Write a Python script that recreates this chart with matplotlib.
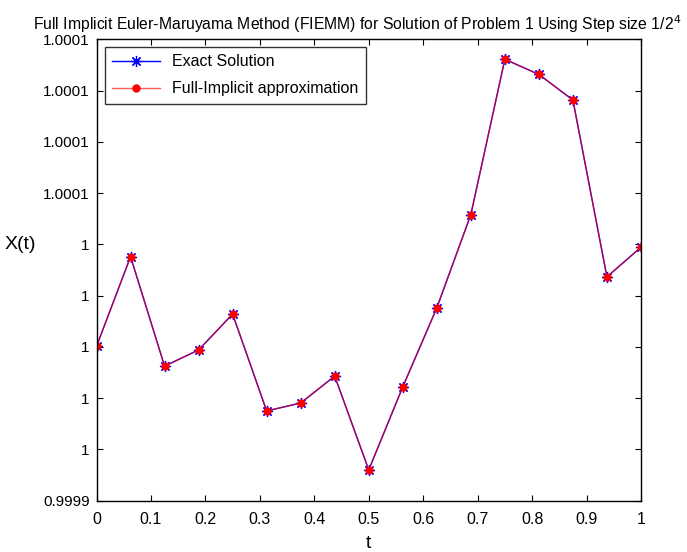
import matplotlib
matplotlib.use("Agg")
import matplotlib.pyplot as plt
import numpy as np

# step size h = 1/2^4 -> 17 points on [0, 1]
t = [k / 16 for k in range(17)]

# values, as offsets from 1 (units of 1e-5)
exact_off = [0.02, 3.52, -0.75, -0.12, 1.28, -2.50, -2.19, -1.14, -4.80,
             -1.56, 1.52, 5.16, 11.22, 10.63, 9.63, 2.73, 3.89]
approx_off = [0.02, 3.52, -0.75, -0.12, 1.28, -2.50, -2.19, -1.14, -4.80,
              -1.56, 1.52, 5.16, 11.22, 10.63, 9.63, 2.73, 3.89]
exact = [1 + v * 1e-5 for v in exact_off]
approx = [1 + v * 1e-5 for v in approx_off]

x_ticks = [0, 0.1, 0.2, 0.3, 0.4, 0.5, 0.6, 0.7, 0.8, 0.9, 1.0]
x_tick_labels = ["0", "0.1", "0.2", "0.3", "0.4", "0.5", "0.6", "0.7", "0.8", "0.9", "1"]
y_ticks = [0.99994, 0.99996, 0.99998, 1.0, 1.00002, 1.00004,
           1.00006, 1.00008, 1.0001, 1.00012]
y_tick_labels = ["0.9999", "1", "1", "1", "1", "1",
                 "1.0001", "1.0001", "1.0001", "1.0001"]

plt.rcParams["font.family"] = ["Liberation Sans Narrow", "Liberation Sans", "DejaVu Sans"]

fig = plt.figure(figsize=(6.87, 5.52), dpi=100)
ax = fig.add_axes([0.1405, 0.093, 0.7925, 0.8358])

ax.plot(t, exact, color="blue", lw=1.0, marker=(8, 2, 0), ms=8, mew=0.9,
        label="Exact Solution")
ax.plot(t, approx, color=(1, 0, 0, 0.65), lw=1.0, marker="o", ms=5,
        markerfacecolor="red", markeredgecolor="red",
        label="Full-Implicit approximation")

ax.set_xlim(0, 1)
ax.set_ylim(0.99994, 1.00012)
ax.set_xticks(x_ticks)
ax.set_xticklabels(x_tick_labels, fontsize=11.5)
ax.set_yticks(y_ticks)
ax.set_yticklabels(y_tick_labels, fontsize=11)
ax.tick_params(axis="x", pad=8)
ax.tick_params(direction="in", length=4, width=0.8, top=True, right=True)
ax.tick_params(axis="y", pad=5)
for s in ax.spines.values():
    s.set_linewidth(1.0)

ax.set_xlabel("t", fontsize=14, labelpad=6)
ax.set_ylabel("X(t)", fontsize=14, rotation=0, va="center")
ax.yaxis.set_label_coords(-0.14, 0.555)
ax.set_title(r"Full Implicit Euler-Maruyama Method (FIEMM) for Solution of Problem 1 Using Step size 1/2$^4$",
             fontsize=11.3, pad=7, x=0.478)

leg = ax.legend(loc="upper left", fontsize=11.5, frameon=True, fancybox=False,
                edgecolor="black", borderaxespad=0.5, handlelength=3.0,
                borderpad=0.45, labelspacing=0.75)
leg.get_frame().set_linewidth(1.0)

fig.savefig("out.png", dpi=100, facecolor="white")
